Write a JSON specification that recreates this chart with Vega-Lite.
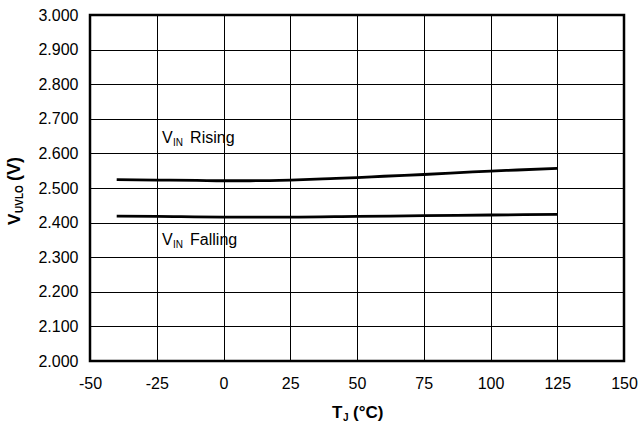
{
  "$schema": "https://vega.github.io/schema/vega-lite/v6.json",
  "width": 534,
  "height": 346,
  "autosize": {"type": "none"},
  "padding": {"left": 90, "top": 15, "right": 16, "bottom": 68},
  "background": "white",
  "config": {
    "view": {"stroke": "#000000", "strokeWidth": 2.5},
    "font": "Liberation Sans",
    "axis": {
      "grid": true,
      "gridColor": "#000000",
      "gridWidth": 1,
      "gridOpacity": 1,
      "domain": false,
      "ticks": false,
      "labelFont": "Liberation Sans",
      "labelFontSize": 16,
      "labelColor": "#000000",
      "labelOverlap": false,
      "labelBound": false,
      "labelFlush": false,
      "title": null
    }
  },
  "datasets": {
    "curves": [
      {"T": -40, "v": 2.524, "series": "Rising"},
      {"T": -25, "v": 2.523, "series": "Rising"},
      {"T": -10, "v": 2.522, "series": "Rising"},
      {"T": 0, "v": 2.521, "series": "Rising"},
      {"T": 10, "v": 2.521, "series": "Rising"},
      {"T": 25, "v": 2.523, "series": "Rising"},
      {"T": 40, "v": 2.527, "series": "Rising"},
      {"T": 50, "v": 2.530, "series": "Rising"},
      {"T": 60, "v": 2.534, "series": "Rising"},
      {"T": 75, "v": 2.539, "series": "Rising"},
      {"T": 90, "v": 2.545, "series": "Rising"},
      {"T": 100, "v": 2.549, "series": "Rising"},
      {"T": 110, "v": 2.552, "series": "Rising"},
      {"T": 125, "v": 2.557, "series": "Rising"},
      {"T": -40, "v": 2.419, "series": "Falling"},
      {"T": -25, "v": 2.418, "series": "Falling"},
      {"T": 0, "v": 2.416, "series": "Falling"},
      {"T": 25, "v": 2.416, "series": "Falling"},
      {"T": 50, "v": 2.418, "series": "Falling"},
      {"T": 75, "v": 2.420, "series": "Falling"},
      {"T": 100, "v": 2.422, "series": "Falling"},
      {"T": 125, "v": 2.424, "series": "Falling"}
    ],
    "labels": [
      {"T": -23, "v": 2.630, "main": "V", "sub": "IN", "rest": "Rising"},
      {"T": -23, "v": 2.335, "main": "V", "sub": "IN", "rest": "Falling"}
    ],
    "one": [{}]
  },
  "layer": [
    {
      "data": {"name": "curves"},
      "mark": {"type": "line", "color": "#000000", "strokeWidth": 2.8, "interpolate": "monotone"},
      "encoding": {
        "x": {
          "field": "T", "type": "quantitative",
          "scale": {"domain": [-50, 150], "nice": false, "zero": false},
          "axis": {"values": [-50, -25, 0, 25, 50, 75, 100, 125, 150], "tickCount": 20, "labelExpr": "toString(datum.value)", "labelPadding": 14}
        },
        "y": {
          "field": "v", "type": "quantitative",
          "scale": {"domain": [2.0, 3.0], "nice": false, "zero": false},
          "axis": {"values": [2.0, 2.1, 2.2, 2.3, 2.4, 2.5, 2.6, 2.7, 2.8, 2.9, 3.0], "tickCount": 20, "format": ".3f", "labelPadding": 12}
        },
        "detail": {"field": "series"}
      }
    },
    {
      "data": {"name": "labels"},
      "mark": {"type": "text", "align": "left", "baseline": "alphabetic", "fontSize": 16, "color": "#000000"},
      "encoding": {
        "x": {"field": "T", "type": "quantitative"},
        "y": {"field": "v", "type": "quantitative"},
        "text": {"field": "main"}
      }
    },
    {
      "data": {"name": "labels"},
      "mark": {"type": "text", "align": "left", "baseline": "alphabetic", "fontSize": 10, "dx": 11, "dy": 3, "color": "#000000"},
      "encoding": {
        "x": {"field": "T", "type": "quantitative"},
        "y": {"field": "v", "type": "quantitative"},
        "text": {"field": "sub"}
      }
    },
    {
      "data": {"name": "labels"},
      "mark": {"type": "text", "align": "left", "baseline": "alphabetic", "fontSize": 16, "dx": 28, "color": "#000000"},
      "encoding": {
        "x": {"field": "T", "type": "quantitative"},
        "y": {"field": "v", "type": "quantitative"},
        "text": {"field": "rest"}
      }
    },
    {
      "data": {"name": "one"},
      "mark": {"type": "text", "text": "T", "align": "left", "baseline": "alphabetic", "fontSize": 17, "fontWeight": "bold", "dx": -25, "dy": 57, "color": "#000000"},
      "encoding": {"x": {"datum": 50}, "y": {"datum": 2.0}}
    },
    {
      "data": {"name": "one"},
      "mark": {"type": "text", "text": "J", "align": "left", "baseline": "alphabetic", "fontSize": 10, "fontWeight": "bold", "dx": -14, "dy": 60, "color": "#000000"},
      "encoding": {"x": {"datum": 50}, "y": {"datum": 2.0}}
    },
    {
      "data": {"name": "one"},
      "mark": {"type": "text", "text": "(°C)", "align": "left", "baseline": "alphabetic", "fontSize": 17, "fontWeight": "bold", "dx": -4, "dy": 57, "color": "#000000"},
      "encoding": {"x": {"datum": 50}, "y": {"datum": 2.0}}
    },
    {
      "data": {"name": "one"},
      "mark": {"type": "text", "text": "V", "angle": 270, "align": "left", "baseline": "alphabetic", "fontSize": 17, "fontWeight": "bold", "dx": -37, "dy": -70, "color": "#000000"},
      "encoding": {"x": {"datum": -50}, "y": {"datum": 2.5}}
    },
    {
      "data": {"name": "one"},
      "mark": {"type": "text", "text": "UVLO", "angle": 270, "align": "left", "baseline": "alphabetic", "fontSize": 10, "fontWeight": "bold", "dx": -25, "dy": -67, "color": "#000000"},
      "encoding": {"x": {"datum": -50}, "y": {"datum": 2.5}}
    },
    {
      "data": {"name": "one"},
      "mark": {"type": "text", "text": "(V)", "angle": 270, "align": "left", "baseline": "alphabetic", "fontSize": 18, "fontWeight": "bold", "dx": 7, "dy": -70, "color": "#000000"},
      "encoding": {"x": {"datum": -50}, "y": {"datum": 2.5}}
    }
  ]
}
